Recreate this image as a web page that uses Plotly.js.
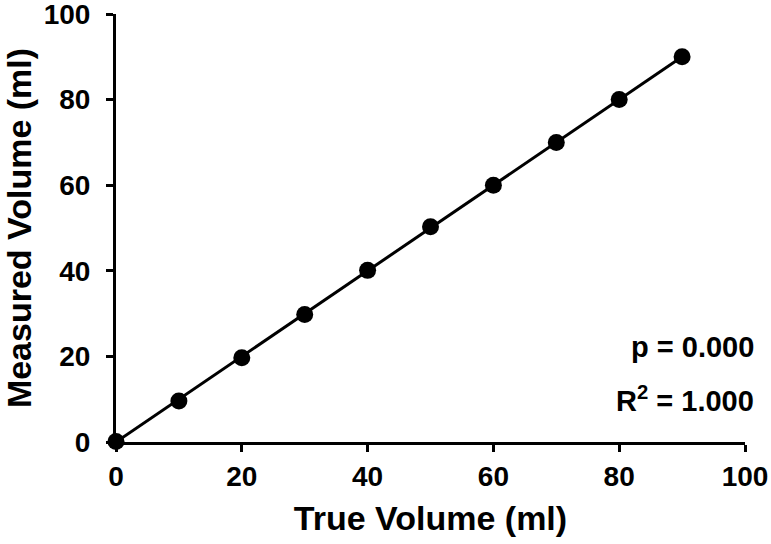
<!DOCTYPE html>
<html>
<head>
<meta charset="utf-8">
<script src="https://cdn.plot.ly/plotly-3.0.1.min.js"></script>
<style>html,body{margin:0;padding:0;background:#fff;}#chart{width:771px;height:544px;}</style>
</head>
<body>
<div id="chart"></div>
<script>
const trueVolume = [0, 10, 20, 30, 40, 50, 60, 70, 80, 90];
const measuredVolume = [0.1, 9.6, 19.7, 29.8, 40.1, 50.3, 60.0, 70.0, 80.0, 90.0];
const fitX = [0, 90];
const fitY = [0, 90];
const tickVals = [0, 20, 40, 60, 80, 100];
const statP = 'p = 0.000';
const statR2 = 'R<sup>2</sup> = 1.000';

const fontFam = 'Liberation Sans, Arial, sans-serif';

const traces = [
  {x: fitX, y: fitY, mode: 'lines', type: 'scatter',
   line: {color: '#000', width: 3}, cliponaxis: false, hoverinfo: 'skip'},
  {x: trueVolume, y: measuredVolume, mode: 'markers', type: 'scatter',
   marker: {color: '#000', size: 17}, cliponaxis: false}
];

const axisCommon = {
  range: [0, 100], tickvals: tickVals, showline: true, linewidth: 3, linecolor: '#000',
  ticks: 'outside', ticklen: 7, tickwidth: 3, tickcolor: '#000',
  showgrid: false, zeroline: false, fixedrange: true, ticklabeloverflow: 'allow',
  tickfont: {family: fontFam, size: 28, color: '#000', weight: 'bold'}
};

const layout = {
  width: 771, height: 544,
  margin: {l: 116, r: 26, t: 14, b: 102},
  paper_bgcolor: '#fff', plot_bgcolor: '#fff',
  showlegend: false,
  xaxis: Object.assign({}, axisCommon, {
    title: {text: 'True Volume (ml)', font: {family: fontFam, size: 34, color: '#000', weight: 'bold'}, standoff: 16}
  }),
  yaxis: Object.assign({}, axisCommon, {
    ticklabelstandoff: 10,
    title: {text: 'Measured Volume (ml)', font: {family: fontFam, size: 34, color: '#000', weight: 'bold'}, standoff: 24}
  }),
  annotations: [
    {xref: 'paper', yref: 'paper', x: 1.017, y: 0.222, xanchor: 'right', yanchor: 'middle', showarrow: false,
     text: statP, font: {family: fontFam, size: 29, color: '#000', weight: 'bold'}},
    {xref: 'paper', yref: 'paper', x: 1.017, y: 0.10, xanchor: 'right', yanchor: 'middle', showarrow: false,
     text: statR2, font: {family: fontFam, size: 29, color: '#000', weight: 'bold'}}
  ]
};

Plotly.newPlot('chart', traces, layout, {displayModeBar: false, staticPlot: true});
</script>
</body>
</html>
